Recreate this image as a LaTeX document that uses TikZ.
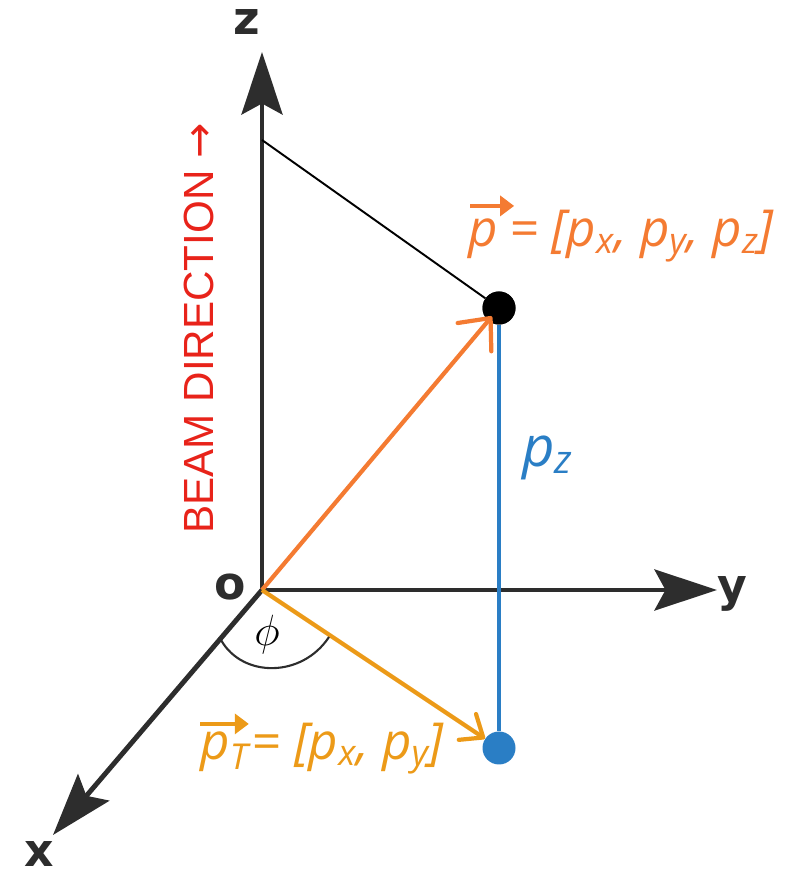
\documentclass[tikz,border=0pt]{standalone}
\usepackage{fontspec}
\setmainfont{Liberation Sans}
\newfontfamily\labelfont{Open Sans}
\newfontfamily\axisfont{DejaVu Sans}
\usetikzlibrary{arrows.meta,positioning}
\definecolor{axisgray}{HTML}{2D2D2D}
\definecolor{momentum}{HTML}{F47B32}
\definecolor{transverse}{HTML}{EC9A18}
\definecolor{longitudinal}{HTML}{2A7EC5}
\definecolor{beam}{HTML}{E8231A}

\begin{document}
\begin{tikzpicture}[
  axis/.style={axisgray,line width=2.8pt,-{Stealth[length=1.25cm,width=0.82cm,inset=0.22cm]}},
  axislabel/.style={font=\axisfont\bfseries\fontsize{26}{30}\selectfont,text=axisgray,inner sep=0pt},
  vecline/.style={line width=2.4pt},
  vecmark/.style={line width=1.9pt,-{Triangle[length=0.28cm,width=0.4cm]}},
  ptext/.style={font=\labelfont\itshape\fontsize{29}{34}\selectfont,inner sep=0pt},
  dot/.style={circle,inner sep=0pt,minimum size=0.66cm}
]
\useasboundingbox (0,0) rectangle (16,17.54);

\coordinate (O) at (5.24,5.74);
\coordinate (ztip) at (5.24,16.5);
\coordinate (ytip) at (14.34,5.74);
\coordinate (xtip) at (1.06,0.84);
\coordinate (zfoot) at (5.24,14.74);

\draw[axis] (O) -- (ztip);
\draw[axis] (O) -- (ytip);
\draw[axis] (O) -- (xtip);

\node[axislabel] (zlab) at (4.94,17.1) {z};
\node[axislabel] (ylab) at (14.64,5.66) {y};
\node[axislabel] (xlab) at (0.78,0.46) {x};
\node[axislabel] (olab) at (4.6,5.8) {o};

\node[rotate=90,anchor=base west,inner sep=0pt,text=beam,font=\fontsize{24}{28}\selectfont] (beamlab) at (4.26,6.86) {BEAM DIRECTION {\axisfont →}};

\node[dot,fill=black] (P) at (9.98,11.38) {};
\node[dot,fill=longitudinal] (Q) at (9.98,2.58) {};

\draw[line width=1.1pt,black] (zfoot) -- (P);
\draw[longitudinal,vecline] (P) -- (Q);
\node[dot,fill=black] at (P) {};

\draw[momentum,vecline,-{Straight Barb[length=0.5cm,width=0.88cm,round]},shorten >=0.22cm] (O) -- (P.center);
\draw[transverse,vecline,-{Straight Barb[length=0.38cm,width=0.62cm,round]}] (O) -- (Q);

\coordinate (arcA) at (4.42,4.74);
\coordinate (arcB) at (6.58,4.8);
\draw[axisgray,line width=1.2pt] (arcA) .. controls (4.85,3.98) and (6.04,3.98) .. (arcB);
\node[font=\fontsize{28}{30}\selectfont,inner sep=0pt] (philab) at (5.34,4.84) {$\phi$};

\node[ptext,text=momentum,anchor=base west] (pv) at (9.36,12.6) {p};
\node[ptext,text=momentum,base right=0.22cm of pv] (peq) {= [p\textsubscript{x}, p\textsubscript{y}, p\textsubscript{z}]};
\draw[vecmark,momentum] ([xshift=0.04cm,yshift=0.26cm]pv.north west) -- ([xshift=0.32cm,yshift=0.26cm]pv.north east);

\node[ptext,text=transverse,anchor=base west] (ptv) at (4.0,2.36) {p\textsubscript{T}};
\node[ptext,text=transverse,base right=0.05cm of ptv] (pteq) {= [p\textsubscript{x}, p\textsubscript{y}]};
\draw[vecmark,transverse] ([yshift=0.14cm]ptv.north west) -- ([yshift=0.14cm]ptv.north east);

\node[ptext,text=longitudinal,anchor=base west,font=\labelfont\itshape\fontsize{32}{36}\selectfont] (pzlab) at (10.44,8.2) {p\textsubscript{z}};
\end{tikzpicture}
\end{document}
